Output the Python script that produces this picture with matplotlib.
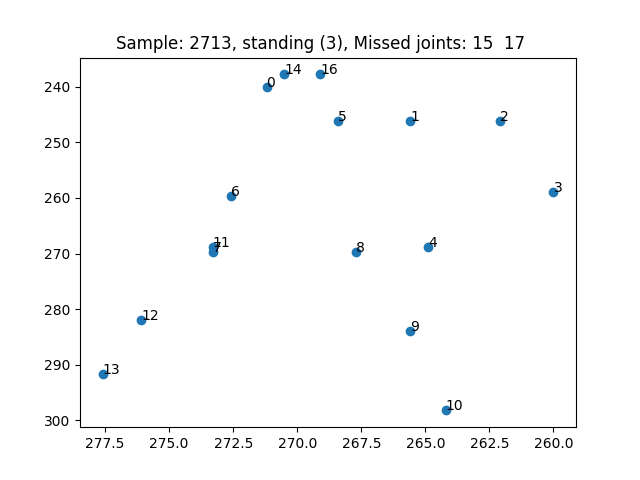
import matplotlib
matplotlib.use("Agg")
import matplotlib.pyplot as plt

labels = [0, 1, 2, 3, 4, 5, 6, 7, 8, 9, 10, 11, 12, 13, 14, 16]
xs = [271.2, 265.6, 262.1, 260.0, 264.9, 268.4, 272.6, 273.3, 267.7, 265.6,
      264.2, 273.3, 276.1, 277.6, 270.5, 269.1]
ys = [240.0, 246.1, 246.1, 258.9, 268.9, 246.1, 259.6, 269.8, 269.8, 284.0,
      298.2, 268.9, 282.0, 291.6, 237.8, 237.8]

fig, ax = plt.subplots(figsize=(6.4, 4.8), dpi=100)
ax.scatter(xs, ys)
for lab, x, y in zip(labels, xs, ys):
    ax.text(x, y, str(lab))
ax.invert_xaxis()
ax.invert_yaxis()
ax.set_title("Sample: 2713, standing (3), Missed joints: 15  17   ")
fig.savefig("out.png")
